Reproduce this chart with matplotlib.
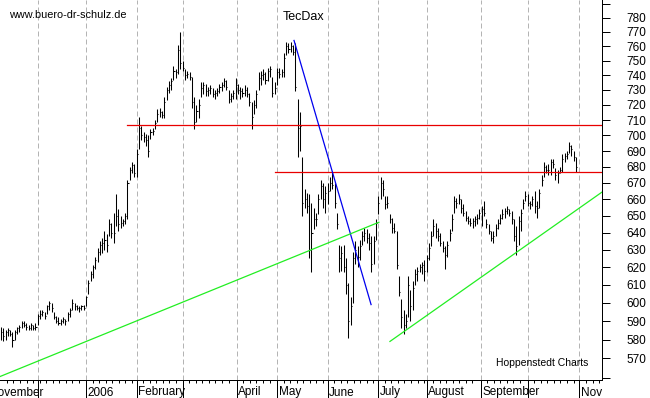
import numpy as np
import matplotlib
matplotlib.use("Agg")
import matplotlib.pyplot as plt
from matplotlib.ticker import FixedLocator, FixedFormatter, NullLocator
from matplotlib.transforms import blended_transform_factory, Bbox, TransformedBbox

plt.rcParams["font.family"] = ["Liberation Sans", "DejaVu Sans"]

# daily high / low / close, 9 Nov 2005 .. 31 Oct 2006 (trading days)
high = [587, 586, 585, 586, 585, 584, 585, 587, 588, 590, 590, 589, 588, 589, 588, 589,
        594, 596, 596, 595, 599, 601, 600, 595, 593, 592, 591, 592, 591, 595, 597, 602,
        600, 599, 598, 599, 599,
        604, 613, 618, 621, 626, 631, 635, 637, 641, 639, 648, 646, 652, 663, 654, 650,
        648, 652, 672, 680, 683, 682,
        691, 712, 706, 702, 701, 700, 704, 705, 710, 717, 718, 716, 725, 732, 736, 738,
        746, 744, 761, 770,
        750, 744, 743, 742, 739, 725, 720, 724, 735, 735, 734, 732, 733, 731, 730, 731,
        734, 735, 738, 737, 730, 728, 730,
        738, 734, 732, 731, 733, 732, 728, 722, 723, 730, 742, 743, 744, 742, 745, 746,
        739, 735,
        745, 745, 744, 755, 763, 762, 763, 761, 762, 724, 715, 686, 666, 664, 663, 658,
        655, 652, 663, 672, 670, 668,
        670, 674, 677, 670, 652, 633, 632, 633, 625, 611, 603, 629, 635, 632, 636, 641,
        643, 642, 640, 638, 638, 648,
        662, 674, 672, 662, 662, 651, 649, 646, 641, 615, 602, 596, 594, 615, 607, 612,
        619, 620, 622, 623, 624,
        627, 634, 641, 648, 646, 643, 640, 635, 632, 635, 642, 651, 662, 661, 663, 660,
        657, 653, 650, 649, 649, 650, 651,
        654, 656, 659, 648, 645, 641, 641, 645, 648, 651, 654, 655, 656, 654, 653, 648,
        644, 650, 654, 660, 665,
        663, 659, 662, 665, 659, 666, 675, 683, 681, 682, 685, 685, 679, 678, 680, 688,
        689, 690, 696, 694, 690, 686]

low = [580, 579, 580, 582, 582, 576, 580, 583, 584, 586, 587, 585, 585, 585, 585, 585,
       588, 591, 593, 591, 594, 596, 595, 591, 589, 588, 588, 589, 588, 590, 592, 596,
       596, 596, 595, 596, 596,
       598, 605, 612, 614, 619, 623, 627, 628, 630, 629, 638, 637, 634, 644, 641, 643,
       644, 645, 648, 672, 676, 674,
       674, 691, 697, 696, 693, 686, 698, 700, 704, 709, 712, 711, 711, 723, 728, 730,
       737, 738, 741, 744,
       743, 737, 738, 737, 718, 704, 709, 711, 725, 727, 726, 726, 727, 725, 724, 726,
       728, 729, 732, 730, 721, 722, 724,
       724, 727, 724, 725, 726, 725, 719, 704, 714, 718, 730, 733, 737, 734, 736, 739,
       725, 727,
       733, 738, 739, 739, 754, 755, 756, 754, 729, 686, 690, 650, 655, 652, 625, 617,
       642, 644, 651, 660, 655, 652,
       657, 665, 666, 655, 642, 617, 618, 617, 605, 581, 588, 600, 622, 620, 624, 633,
       635, 634, 630, 617, 622, 636,
       651, 660, 662, 654, 655, 646, 640, 640, 619, 604, 586, 583, 586, 592, 590, 596,
       610, 612, 617, 616, 612,
       617, 624, 632, 638, 637, 635, 632, 629, 619, 626, 635, 641, 652, 655, 657, 652,
       650, 647, 645, 644, 643, 644, 645,
       648, 644, 650, 643, 639, 635, 634, 638, 642, 645, 648, 649, 651, 650, 645, 635,
       627, 633, 641, 654, 659,
       656, 654, 656, 652, 649, 655, 668, 674, 676, 675, 675, 679, 672, 670, 676, 677,
       683, 685, 689, 687, 684, 677]

close = [584, 582, 584, 585, 583, 580, 584, 586, 587, 589, 588, 587, 586, 588, 586, 587,
         593, 594, 595, 593, 598, 600, 597, 592, 590, 589, 590, 591, 590, 594, 596, 600,
         598, 597, 597, 598, 597,
         603, 611, 616, 620, 624, 629, 633, 634, 636, 633, 645, 640, 640, 650, 645, 646,
         647, 650, 670, 678, 681, 676,
         688, 705, 700, 699, 697, 690, 702, 703, 708, 714, 715, 713, 722, 730, 733, 736,
         743, 742, 757, 748,
         745, 740, 741, 739, 722, 709, 716, 720, 731, 733, 729, 730, 731, 727, 728, 729,
         732, 733, 736, 732, 724, 726, 728,
         733, 730, 729, 728, 730, 727, 722, 712, 720, 727, 738, 740, 741, 737, 743, 744,
         728, 731,
         742, 741, 742, 752, 760, 758, 760, 756, 732, 705, 706, 658, 660, 656, 630, 640,
         648, 648, 660, 668, 660, 664,
         665, 670, 669, 658, 645, 625, 628, 620, 610, 590, 598, 625, 630, 626, 632, 638,
         640, 637, 634, 622, 635, 646,
         658, 670, 666, 657, 658, 648, 643, 641, 621, 606, 592, 588, 590, 610, 598, 608,
         616, 618, 620, 621, 618,
         625, 631, 638, 644, 641, 638, 634, 631, 627, 633, 640, 648, 659, 658, 660, 655,
         652, 649, 647, 646, 647, 648, 649,
         652, 654, 652, 645, 641, 637, 638, 643, 646, 649, 651, 653, 654, 652, 648, 638,
         632, 647, 652, 658, 662,
         658, 657, 660, 656, 655, 664, 672, 680, 678, 678, 683, 682, 675, 676, 678, 685,
         687, 688, 693, 691, 686, 680]

# trend lines: (bar index, value) at both ends
red_top = [(55.0, 261.3), (707, 707)]
red_mid = [(119.2, 261.3), (676.5, 676.5)]
blue_down = [(127.4, 160.9), (764, 599)]
green_long = [(-0.4, 164.3), (560.6, 646.2)]
green_short = [(169.1, 261.3), (579.0, 664.4)]

months = ["November", "2006", "February", "", "April", "May", "June",
          "July", "August", "September", "", "November"]
month_pos = [-6, 37, 59, 79, 102.5, 120, 142, 164, 185, 208.5, 229, 251.5]
grid_pos = [16] + month_pos[1:]

W, H = 650, 398
fig = plt.figure(figsize=(W / 100, H / 100), dpi=100)
ax = fig.add_axes([0, 18 / H, 602 / W, 380 / H])

x = np.arange(len(close))
ax.vlines(x, low, high, color="black", lw=0.75)
ax.hlines(close, x, x + 0.45, color="black", lw=0.75)

ax.plot(*red_top, color="#e80000", lw=0.9)
ax.plot(*red_mid, color="#e80000", lw=0.9)
ax.plot(*blue_down, color="#0000ee", lw=0.9)
ax.plot(*green_long, color="#22ee22", lw=0.9)
ax.plot(*green_short, color="#22ee22", lw=0.9)

for p in grid_pos:
    ax.axvline(p, color="#b4b4b4", lw=0.72, linestyle=(0, (5, 3)), zorder=0)

ax.set_yscale("log")

yt = list(range(560, 800, 10))
ax.yaxis.set_major_locator(FixedLocator(yt))
ax.yaxis.set_major_formatter(FixedFormatter(["" if v in (560, 790) else str(v) for v in yt]))
ax.yaxis.set_minor_locator(NullLocator())
ax.yaxis.tick_right()
ax.tick_params(axis="y", length=5.8, width=0.72, pad=12, labelsize=8.5)

minor = []
for a, b in zip([-6] + month_pos[1:], month_pos[1:] + [262]):
    minor += [m for m in np.arange(a + 2.85, b - 1, 2.85) if 0 < m < 261]
ax.set_xticks(grid_pos)
ax.set_xticks(minor, minor=True)
ax.set_xticklabels([])
ax.tick_params(axis="x", which="major", length=13, width=0.72)
ax.tick_params(axis="x", which="minor", length=2.5, width=0.72)

# limits last, so the tick lists cannot widen them
ax.set_xlim(-0.43, 261.3)
ax.set_ylim(558.8, 793)

for s in ["top", "left"]:
    ax.spines[s].set_visible(False)
for s in ["right", "bottom"]:
    ax.spines[s].set_linewidth(0.72)

# month labels, clipped to the plot width
trans = blended_transform_factory(ax.transData, fig.transFigure)
clip = TransformedBbox(Bbox([[0, 0], [602 / W, 1]]), fig.transFigure)
for m, p in zip(months, month_pos):
    if m:
        t = fig.text(p + 0.7, 2.5 / H, m, transform=trans, fontsize=8.5, ha="left", va="baseline")
        t.set_clip_box(clip)
        t.set_clip_on(True)

fig.text(9 / W, 1 - 18.5 / H, "www.buero-dr-schulz.de", fontsize=7.8, va="baseline")
fig.text(283 / W, 1 - 20 / H, "TecDax", fontsize=9, va="baseline")
fig.text(496 / W, 1 - 366 / H, "Hoppenstedt Charts", fontsize=7.5, va="baseline")

fig.savefig("out.png", dpi=100)
